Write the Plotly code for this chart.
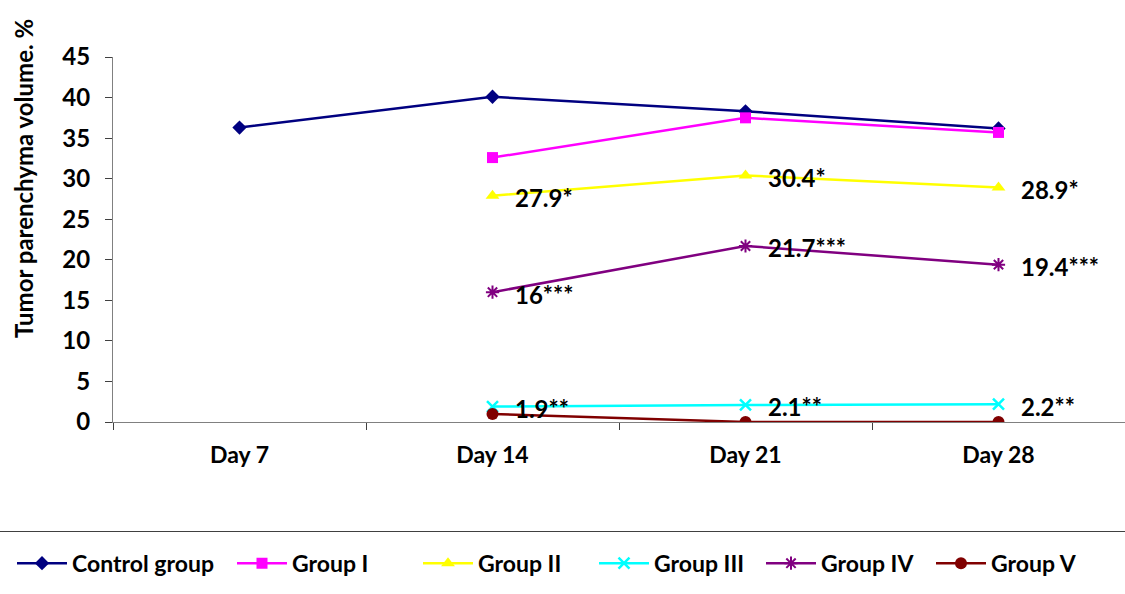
import plotly.graph_objects as go

# Tumor parenchyma volume (%) by day for each group
days = ["Day 7", "Day 14", "Day 21", "Day 28"]
control = [36.3, 40.1, 38.3, 36.2]
group_1 = [None, 32.6, 37.5, 35.7]
group_2 = [None, 27.9, 30.4, 28.9]
group_3 = [None, 1.9, 2.1, 2.2]
group_4 = [None, 16, 21.7, 19.4]
group_5 = [None, 1.0, 0, 0]

# significance marks appended to the labelled values
sig_2 = ["", "*", "*", "*"]
sig_3 = ["", "**", "**", "**"]
sig_4 = ["", "***", "***", "***"]

FONT = "Lato"
PLOT_LEFT, PLOT_WIDTH = 113, 1012

series = [
    ("Control group", control, "#000080", dict(symbol="diamond", size=11)),
    ("Group I", group_1, "#FF00FF", dict(symbol="square", size=11)),
    ("Group II", group_2, "#FFFF00", dict(symbol="triangle-up", size=12)),
    ("Group III", group_3, "#00FFFF", dict(symbol="x-thin-open", size=11, line=dict(width=2.5, color="#00FFFF"))),
    ("Group IV", group_4, "#800080", dict(symbol="asterisk-open", size=11, line=dict(width=2, color="#800080"))),
    ("Group V", group_5, "#800000", dict(symbol="circle", size=12)),
]

# left edge (px) of each legend entry along the bottom row
legend_left_px = [18, 238, 424, 600, 767, 937]

fig = go.Figure()
legend_layouts = {}
for i, ((name, vals, color, marker), left) in enumerate(zip(series, legend_left_px)):
    key = "legend" if i == 0 else f"legend{i + 1}"
    fig.add_trace(go.Scatter(
        x=days, y=vals, name=name, mode="lines+markers",
        line=dict(color=color, width=2.5),
        marker=dict(color=color, **marker),
        connectgaps=False, legend=key,
    ))
    legend_layouts[key] = dict(
        orientation="h", xanchor="left",
        x=(left - 6 - PLOT_LEFT) / PLOT_WIDTH,
        y=-0.387, yanchor="middle",
        font=dict(family=FONT, size=23, color="black", weight="bold"),
        itemwidth=50, bgcolor="rgba(0,0,0,0)",
    )

# value labels to the right of the points
for vals, marks in [(group_2, sig_2), (group_3, sig_3), (group_4, sig_4)]:
    for d, v, m in zip(days, vals, marks):
        if v is None:
            continue
        fig.add_annotation(
            x=d, y=v, text=f"{v:g}{m}", showarrow=False,
            xanchor="left", yanchor="middle", xshift=20, yshift=-2,
            font=dict(family=FONT, size=24, color="black", weight="bold"),
        )

# y-axis title
fig.add_annotation(
    xref="paper", yref="paper", x=-0.089, y=0.668,
    text="Tumor parenchyma volume. %", textangle=-90,
    showarrow=False, xanchor="center", yanchor="middle",
    font=dict(family=FONT, size=24, color="black", weight="bold"),
)

# separator line above the legend
fig.add_shape(
    type="line", xref="paper", yref="paper",
    x0=-0.2, x1=1.0, y0=-0.3, y1=-0.3,
    line=dict(color="#404040", width=1.2),
)

fig.update_layout(
    width=1125, height=594,
    margin=dict(l=113, r=0, t=57, b=172),
    paper_bgcolor="white", plot_bgcolor="white",
    font=dict(family=FONT, color="black"),
    showlegend=True,
    xaxis=dict(
        type="category", range=[-0.5, 3.5],
        showline=True, linecolor="#808080", linewidth=1.2,
        ticks="outside", ticklen=7, tickcolor="#404040",
        tickson="boundaries", showgrid=False, zeroline=False,
        ticklabelstandoff=12,
        tickfont=dict(family=FONT, size=23, color="black", weight="bold"),
    ),
    yaxis=dict(
        range=[0, 45], dtick=5,
        showline=True, linecolor="#808080", linewidth=1.2,
        ticks="outside", ticklen=7, tickcolor="#404040",
        showgrid=False, zeroline=False,
        ticklabelstandoff=10,
        tickfont=dict(family=FONT, size=24, color="black", weight="bold"),
    ),
    **legend_layouts,
)

fig.write_html("out.html")
